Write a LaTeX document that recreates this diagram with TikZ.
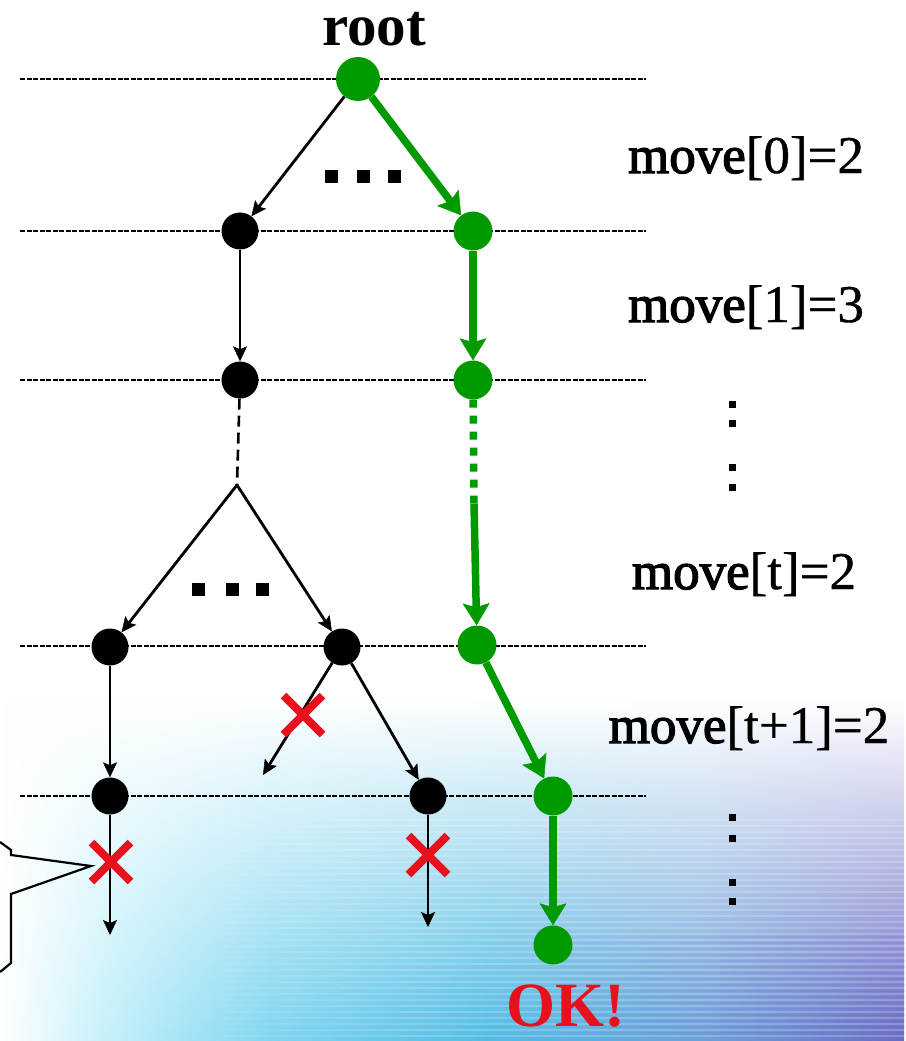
\documentclass[tikz,border=0pt]{standalone}
\usepackage{fontspec}
\setmainfont{Liberation Serif}
\newfontfamily\wordfont[FakeBold=2.4]{Liberation Serif}
\newfontfamily\indexfont[FakeBold=0.8]{Liberation Serif}
\usetikzlibrary{arrows.meta,shapes.misc,fadings}

\definecolor{pathgreen}{HTML}{009A00}
\definecolor{crossred}{HTML}{E8101C}
\definecolor{bgA}{HTML}{C4F0FA}
\definecolor{bgB}{HTML}{80D6F0}
\definecolor{bgC}{HTML}{52BCE4}
\definecolor{bgD}{HTML}{6CA0DA}
\definecolor{bgE}{HTML}{6A6CC6}

% colour band of the backdrop, left to right
\pgfdeclarehorizontalshading{skyband}{100bp}{%
  color(0bp)=(white); color(25bp)=(white); color(31bp)=(bgA);
  color(40bp)=(bgB); color(52bp)=(bgC); color(64bp)=(bgD);
  color(75bp)=(bgE); color(100bp)=(bgE)}
\tikzfading[name=riseup, top color=transparent!100,
  middle color=transparent!78, bottom color=transparent!0]

\newcommand\movetext[1]{{\wordfont move}{\indexfont #1}}

\tikzset{
  bnode/.style={circle, fill=black, inner sep=0pt, minimum size=37pt},
  gnode/.style={circle, fill=pathgreen, inner sep=0pt, minimum size=39pt},
  blink/.style={draw=black, line width=2.8pt,
    -{Stealth[length=15pt,width=14pt,inset=3pt,line width=0.5pt]}},
  glink/.style={draw=pathgreen, line width=7.5pt,
    -{Stealth[length=22pt,width=27pt,inset=4pt,line width=0.5pt]}},
  levelline/.style={draw=black, line width=2.6pt, dash pattern=on 5pt off 1.5pt},
  deadmark/.style={cross out, draw=crossred, line width=8pt,
    minimum size=31pt, inner sep=0pt},
  gapdot/.style={rectangle, fill=black, inner sep=0pt, minimum size=13pt},
  vdot/.style={rectangle, fill=black, inner sep=0pt, minimum size=7pt},
  movelabel/.style={font=\fontsize{53}{60}\selectfont, anchor=base,
    inner sep=0pt},
  streak/.style={white, opacity=0.06, line width=1.3pt},
}

\begin{document}
\begin{tikzpicture}[x=1pt,y=-1pt]
\useasboundingbox (0,0) rectangle (905,1041);
\fill[white] (0,0) rectangle (905,1041);

% backdrop: colour band, then layered horizontal streaks that build up
% gradually from the left
\shade[shading=skyband, path fading=riseup] (0,700) rectangle (905,1041);
\foreach \s in {220,280,340,400}
  \draw[streak] \foreach \k in {0,...,36} {(\s,820+6*\k) -- (905,820+6*\k)};
\foreach \s in {560,640,720}
  \draw[bgE, opacity=0.05, line width=1.3pt]
    \foreach \k in {0,...,16} {(\s,937+6*\k) -- (905,937+6*\k)};

% level lines
\foreach \yy in {79,231,380,646,796}
  \draw[levelline] (20,\yy) -- (646,\yy);

% tree nodes
\node[gnode, minimum size=44pt] (root) at (358,79) {};
\node[bnode] (b1) at (240,231) {};
\node[gnode] (g1) at (473,231) {};
\node[bnode] (b2) at (240,380) {};
\node[gnode] (g2) at (473,380) {};
\node[bnode] (t1) at (110,647) {};
\node[bnode] (t2) at (342,647) {};
\node[gnode] (g3) at (477,645) {};
\node[bnode] (u1) at (110,796) {};
\node[bnode] (u2) at (428,796) {};
\node[gnode] (g4) at (553,796) {};
\node[gnode] (g5) at (553,945) {};

\coordinate (apex) at (237,485);
\coordinate (gmid) at (474,504);
\coordinate (dead) at (263,775);
\coordinate (end1) at (110,935);
\coordinate (end2) at (428,927);

% connectors
\draw[blink] (root) -- (b1);
\draw[glink] (root) -- (g1);
\draw[blink] (b1) -- (b2);
\draw[glink] (g1) -- (g2);
\draw[black, line width=2.6pt, dash pattern=on 11pt off 6pt] (b2) -- (apex);
\draw[pathgreen, line width=7.5pt, dash pattern=on 8pt off 8pt] (g2) -- (gmid);
\draw[glink] (gmid) -- (g3);
\draw[blink] (apex) -- (t1);
\draw[blink] (apex) -- (t2);
\draw[blink] (t1) -- (u1);
\draw[blink] (t2) -- (dead);
\draw[blink] (t2) -- (u2);
\draw[glink] (g3) -- (g4);
\draw[glink] (g4) -- (g5);
\draw[blink] (u1) -- (end1);
\draw[blink] (u2) -- (end2);

% pruned branches
\node[deadmark] (x1) at (303,715) {};
\node[deadmark] (x2) at (111,862) {};
\node[deadmark] (x3) at (428,855) {};

% callout pointing at the pruned branch
\draw[line width=2.2pt, line join=miter]
  (0,842) -- (11,850) -- (11,855) -- (91,866) -- (11,894) -- (11,963) -- (0,972);

% elided siblings
\node[gapdot] (e1) at (331,176) {};
\node[gapdot] (e2) at (363,176) {};
\node[gapdot] (e3) at (394,176) {};
\node[gapdot] (f1) at (198,589) {};
\node[gapdot] (f2) at (232,589) {};
\node[gapdot] (f3) at (262,589) {};

% move labels
\node[movelabel] (m0) at (746,173) {\movetext{[0]=2}};
\node[movelabel] (m1) at (746,322) {\movetext{[1]=3}};
\node[movelabel] (mt) at (744,589) {\movetext{[t]=2}};
\node[movelabel] (mt1) at (749,743) {\movetext{[t+1]=2}};
\foreach \yy [count=\i] in {404,423,467,487,817,838,882,901}
  \node[vdot] (v\i) at (732,\yy) {};

% titles
\node[font=\bfseries\fontsize{59}{66}\selectfont, anchor=base, inner sep=0pt]
  (rootlbl) at (374,46) {root};
\node[font=\bfseries\fontsize{63}{70}\selectfont, text=crossred, anchor=base,
  inner sep=0pt] (oklbl) at (566,1026) {OK!};
\end{tikzpicture}
\end{document}
